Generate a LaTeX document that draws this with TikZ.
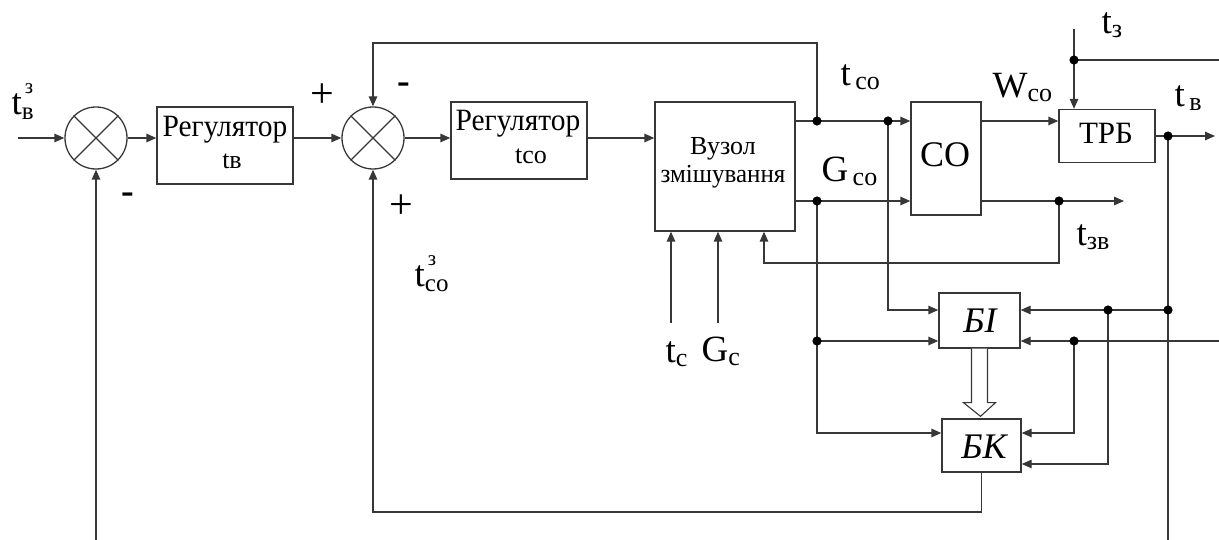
\documentclass[tikz,border=0pt]{standalone}
\usepackage{fontspec}
\setmainfont{Liberation Serif}
\usetikzlibrary{arrows.meta,calc}
\definecolor{lc}{RGB}{55,55,55}
\newcommand\msub[2]{#1\raisebox{-4pt}{\fontsize{26}{26}\selectfont #2}}
\newcommand\msubsup[3]{#1\rlap{\hspace{3pt}\raisebox{21pt}{\fontsize{21}{21}\selectfont #3}}\raisebox{-5pt}{\fontsize{25}{25}\selectfont #2}}
\begin{document}
\begin{tikzpicture}[x=1pt,y=-1pt,line width=1.3pt,color=lc,text=black,
  arr/.style={-{Triangle[length=10pt,width=8.5pt]}},
  blk/.style={draw=lc,line width=1.3pt,rectangle,inner sep=0pt},
  sumn/.style={draw=lc,line width=1.3pt,circle,minimum size=62pt,inner sep=0pt},
  txt/.style={inner sep=0pt,anchor=base},
  lab/.style={inner sep=0pt,anchor=base west,font=\fontsize{37}{37}\selectfont},
  sgn/.style={inner sep=0pt,font=\fontsize{42}{42}\selectfont},
  jd/.style={fill=black}]
\useasboundingbox (0,0) rectangle (1219,540);
% blocks
\node[sumn] (s1) at (96,138) {};
\draw (s1.45) -- (s1.225) (s1.135) -- (s1.315);
\node[sumn] (s2) at (373,138) {};
\draw (s2.45) -- (s2.225) (s2.135) -- (s2.315);
\node[blk,minimum width=136pt,minimum height=77pt] (reg1) at (225,145.5) {};
\node[blk,minimum width=136pt,minimum height=77pt] (reg2) at (519,140.5) {};
\node[blk,minimum width=140pt,minimum height=129pt] (vuz) at (725,166.5) {};
\node[blk,minimum width=70pt,minimum height=113pt] (co) at (946,158.5) {};
\node[blk,minimum width=96pt,minimum height=53pt] (trb) at (1107,136) {};
\node[blk,minimum width=81pt,minimum height=55pt] (bi) at (979.5,320.5) {};
\node[blk,minimum width=79pt,minimum height=53pt] (bk) at (981.5,445.5) {};
% block texts
\node[txt,font=\fontsize{31}{31}\selectfont] (reg1a) at (225,137) {\scalebox{0.95}[1]{Регулятор}};
\node[txt,font=\fontsize{26}{26}\selectfont] (reg1b) at (232,169) {tв};
\node[txt,font=\fontsize{31}{31}\selectfont] (reg2a) at (518,131) {\scalebox{0.95}[1]{Регулятор}};
\node[txt,font=\fontsize{26}{26}\selectfont] (reg2b) at (531,164) {tсо};
\node[txt,font=\fontsize{26}{26}\selectfont] (vuza) at (723,155) {Вузол};
\node[txt,font=\fontsize{26}{26}\selectfont] (vuzb) at (723,183) {\scalebox{0.96}[1]{змішування}};
\node[txt,font=\fontsize{36}{36}\selectfont] (colbl) at (945,167) {СО};
\node[txt,font=\fontsize{31}{31}\selectfont] (trblbl) at (1106,144) {ТРБ};
\node[txt,font=\fontsize{36}{36}\selectfont\itshape] (bilbl) at (980,333) {БІ};
\node[txt,font=\fontsize{36}{36}\selectfont\itshape] (bklbl) at (984,458) {БК};
% signal labels
\node[lab] (ltv3) at (11,115) {\msubsup{t}{в}{з}};
\node[lab] (ltco3) at (414,287) {\msubsup{t}{со}{з}};
\node[lab] (ltco) at (840,86) {\msub{t}{\,со}};
\node[lab] (lgco) at (821,182) {\msub{G}{\,со}};
\node[lab] (lwco) at (992,98) {\msub{W}{со}};
\node[lab] (ltz) at (1101,34) {\msub{t}{з}};
\node[lab] (ltv) at (1174,107) {\msub{t}{\,в}};
\node[lab] (ltzv) at (1076,246) {\msub{t}{зв}};
\node[lab] (ltc) at (665,362) {\msub{t}{с}};
\node[lab] (lgc) at (701,361) {\msub{G}{с}};
% signs
\node[sgn] (p1) at (322,96) {+};
\node[sgn,font=\fontsize{38}{38}\selectfont\bfseries] (m1) at (404,88) {-};
\node[sgn,font=\fontsize{38}{38}\selectfont\bfseries] (m2) at (128,198) {-};
\node[sgn] (p2) at (401,207) {+};
% coordinates
\coordinate (in1) at (18,138);
\coordinate (fb1) at (96,540);
\coordinate (j1) at (817,121);
\coordinate (j2) at (888,121);
\coordinate (j3) at (817,201);
\coordinate (tf) at (817,43);
\coordinate (tz0) at (1074,29);
\coordinate (jz) at (1074,60);
\coordinate (ez) at (1219,60);
\coordinate (jv) at (1168,136);
\coordinate (tvout) at (1215,136);
\coordinate (vbot) at (1168,540);
\coordinate (jzv) at (1059,201);
\coordinate (tzvout) at (1124,201);
\coordinate (rz) at (764,263);
\coordinate (tcin) at (671,323);
\coordinate (gcin) at (718,323);
\coordinate (jb1) at (1108,310);
\coordinate (jb2) at (1074,341);
\coordinate (jb3) at (817,341);
\coordinate (jb4) at (1168,310);
\coordinate (eb) at (1219,341);
\coordinate (jk1) at (817,433);
\coordinate (jk2) at (1108,464);
\coordinate (fbk) at (373,512);
% connectors
\draw[arr] (in1) -- (s1.west);
\draw[arr] (s1.east) -- (s1.east -| reg1.west);
\draw[arr] (reg1.east |- s2) -- (s2.west);
\draw[arr] (s2.east) -- (s2.east -| reg2.west);
\draw[arr] (reg2.east |- s2) -- (s2 -| vuz.west);
\draw[arr] (vuz.east |- j1) -- (co.west |- j1);
\draw[arr] (vuz.east |- j3) -- (co.west |- j3);
\draw[arr] (j1) -- (tf) -| (s2.north);
\draw[arr] (co.east |- j1) -- (trb.west |- j1);
\draw (tz0) -- (jz);
\draw[arr] (jz) -- (jz |- trb.north);
\draw (jz) -- (ez);
\draw[arr] (trb.east) -- (tvout);
\draw (jv) -- (vbot);
\draw[arr] (co.east |- j3) -- (tzvout);
\draw[arr] (jzv) |- (rz) -- (rz |- vuz.south);
\draw[arr] (tcin) -- (tcin |- vuz.south);
\draw[arr] (gcin) -- (gcin |- vuz.south);
\draw[arr] (j2) |- (bi.west |- jb1);
\draw[arr] (jb3) -- (bi.west |- jb3);
\draw[arr] (j3) |- (bk.west |- jk1);
\draw[arr] (jb4) -- (bi.east |- jb4);
\draw[arr] (eb) -- (bi.east |- eb);
\draw[arr] (jb2) |- (bk.east |- jk1);
\draw[arr] (jb1) -- (jk2) -- (bk.east |- jk2);
\draw[arr] (bk.south) |- (fbk) -- (s2.south);
\draw[arr] (fb1) -- (s1.south);
% hollow arrow
\draw[fill=white,line width=1.1pt] ($(bi.south)+(-8,0)$) -- ($(bi.south)+(-8,54)$) -- ($(bi.south)+(-16,54)$) -- ($(bk.north)+(-1,-2)$) -- ($(bi.south)+(16,54)$) -- ($(bi.south)+(8,54)$) -- ($(bi.south)+(8,0)$);
% junction dots
\foreach \p in {j1,j2,j3,jz,jv,jzv,jb1,jb2,jb3,jb4}
  \fill[jd] (\p) circle[radius=4.6pt];
\end{tikzpicture}
\end{document}
